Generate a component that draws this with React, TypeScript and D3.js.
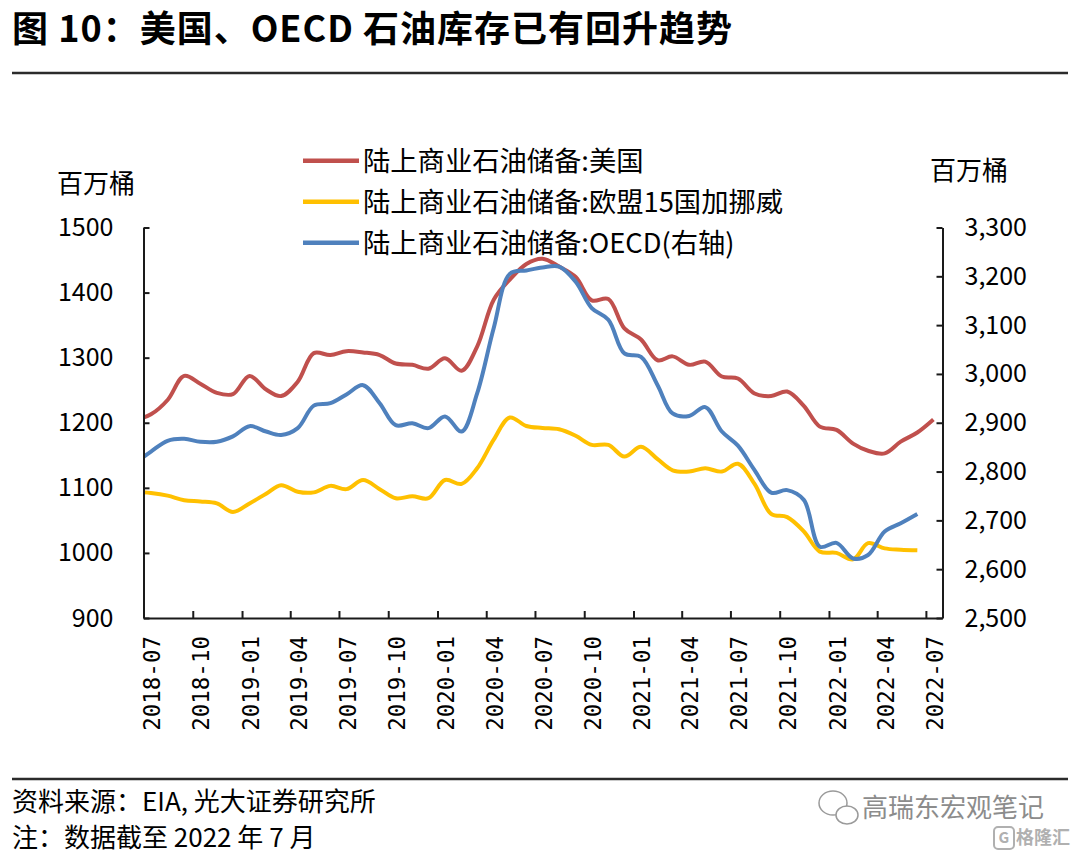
import { useEffect, useRef } from 'react';
import * as d3 from 'd3';

// monthly observations, 2018-06 .. 2022-07
const monthList = [
  '2018-06', '2018-07', '2018-08', '2018-09', '2018-10', '2018-11', '2018-12',
  '2019-01', '2019-02', '2019-03', '2019-04', '2019-05', '2019-06',
  '2019-07', '2019-08', '2019-09', '2019-10', '2019-11', '2019-12',
  '2020-01', '2020-02', '2020-03', '2020-04', '2020-05', '2020-06',
  '2020-07', '2020-08', '2020-09', '2020-10', '2020-11', '2020-12',
  '2021-01', '2021-02', '2021-03', '2021-04', '2021-05', '2021-06',
  '2021-07', '2021-08', '2021-09', '2021-10', '2021-11', '2021-12',
  '2022-01', '2022-02', '2022-03', '2022-04', '2022-05', '2022-06', '2022-07',
];

// 陆上商业石油储备:美国 (百万桶, left axis)
const usStock = [
  1204, 1213, 1235, 1272, 1260, 1246, 1244,
  1272, 1251, 1241, 1263, 1307, 1304,
  1310, 1308, 1304, 1291, 1289, 1283,
  1299, 1280, 1317, 1389, 1420, 1444,
  1452, 1440, 1424, 1388, 1390, 1345,
  1328, 1296, 1302, 1289, 1294, 1271,
  1268, 1245, 1241, 1248, 1226, 1194,
  1189, 1168, 1157, 1153, 1171, 1185, 1205,
];

// 陆上商业石油储备:欧盟15国加挪威 (百万桶, left axis)
const euStock = [
  1094, 1092, 1088, 1081, 1079, 1076, 1063,
  1076, 1091, 1104, 1094, 1093, 1103,
  1098, 1112, 1098, 1084, 1087, 1084,
  1112, 1106, 1130, 1174, 1208, 1195,
  1192, 1190, 1180, 1166, 1166, 1148,
  1163, 1144, 1127, 1125, 1130, 1125,
  1137, 1106, 1060, 1055, 1033, 1002,
  1000, 990, 1015, 1007, 1005, 1004,
];

// 陆上商业石油储备:OECD (百万桶, right axis)
const oecdStock = [
  2817, 2841, 2863, 2867, 2861, 2861, 2872,
  2893, 2882, 2875, 2889, 2935, 2940,
  2958, 2977, 2940, 2895, 2899, 2889,
  2913, 2882, 2960, 3094, 3205, 3212,
  3218, 3220, 3189, 3135, 3111, 3042,
  3035, 2977, 2919, 2914, 2932, 2882,
  2853, 2803, 2757, 2762, 2742, 2646,
  2654, 2622, 2629, 2677, 2694, 2713,
];

const xTickLabels = [
  '2018-07', '2018-10', '2019-01', '2019-04', '2019-07', '2019-10',
  '2020-01', '2020-04', '2020-07', '2020-10', '2021-01', '2021-04',
  '2021-07', '2021-10', '2022-01', '2022-04', '2022-07',
];
const leftTicks = [900, 1000, 1100, 1200, 1300, 1400, 1500];
const rightTicks = [2500, 2600, 2700, 2800, 2900, 3000, 3100, 3200, 3300];

const legendList = [
  { name: '陆上商业石油储备:美国', color: '#C0504D' },
  { name: '陆上商业石油储备:欧盟15国加挪威', color: '#FFC000' },
  { name: '陆上商业石油储备:OECD(右轴)', color: '#4F81BD' },
];

const width = 1080;
const height = 858;
const plot = { left: 143.5, right: 942.5, top: 227.5, bottom: 618 };
const cjk = '"Noto Sans CJK SC", "Noto Sans", sans-serif';

const parseMonth = d3.timeParse('%Y-%m');
const midMonth = (m: string) => d3.timeDay.offset(parseMonth(m)!, 14);

const App = () => {
  const svgRef = useRef<SVGSVGElement>(null);

  useEffect(() => {
    const svg = d3.select(svgRef.current);
    svg.selectAll('*').remove();

    const x = d3
      .scaleTime()
      .domain([parseMonth('2018-07')!, parseMonth('2022-08')!])
      .range([plot.left, plot.right]);
    const yL = d3.scaleLinear().domain([900, 1500]).range([plot.bottom, plot.top]);
    const yR = d3.scaleLinear().domain([2500, 3300]).range([plot.bottom, plot.top]);

    // title
    svg
      .append('text')
      .attr('x', 12)
      .attr('y', 42)
      .attr('font-family', cjk)
      .attr('font-size', 36)
      .attr('font-weight', 700)
      .attr('letter-spacing', 1)
      .attr('fill', '#000')
      .text('图 10：美国、OECD 石油库存已有回升趋势');
    svg
      .append('line')
      .attr('x1', 12)
      .attr('x2', 1068)
      .attr('y1', 73)
      .attr('y2', 73)
      .attr('stroke', '#2b2b2b')
      .attr('stroke-width', 2.5);

    // legend
    const legend = svg
      .append('g')
      .selectAll('g')
      .data(legendList)
      .join('g')
      .attr('transform', (d, i) => `translate(303, ${160.7 + i * 41})`);
    legend
      .append('line')
      .attr('x1', 0)
      .attr('x2', 56)
      .attr('stroke', (d) => d.color)
      .attr('stroke-width', 4.5);
    legend
      .append('text')
      .attr('x', 60)
      .attr('dy', '0.36em')
      .attr('font-family', cjk)
      .attr('font-size', 27.3)
      .text((d) => d.name);

    // axis titles
    [
      { x: 96, y: 184 },
      { x: 969, y: 171 },
    ].forEach((p) => {
      svg
        .append('text')
        .attr('x', p.x)
        .attr('y', p.y)
        .attr('dy', '0.36em')
        .attr('text-anchor', 'middle')
        .attr('font-family', cjk)
        .attr('font-size', 26)
        .text('百万桶');
    });

    // series
    svg
      .append('clipPath')
      .attr('id', 'plot-clip')
      .append('rect')
      .attr('x', plot.left)
      .attr('y', plot.top - 10)
      .attr('width', plot.right - plot.left)
      .attr('height', plot.bottom - plot.top + 20);

    const lineL = d3
      .line<number>()
      .x((d, i) => x(midMonth(monthList[i])))
      .y((d) => yL(d))
      .curve(d3.curveCatmullRom.alpha(0.5));
    const lineR = d3
      .line<number>()
      .x((d, i) => x(midMonth(monthList[i])))
      .y((d) => yR(d))
      .curve(d3.curveCatmullRom.alpha(0.5));

    const series = svg.append('g').attr('clip-path', 'url(#plot-clip)');
    [
      { d: lineL(usStock), color: legendList[0].color },
      { d: lineL(euStock), color: legendList[1].color },
      { d: lineR(oecdStock), color: legendList[2].color },
    ].forEach((s) => {
      series
        .append('path')
        .attr('d', s.d)
        .attr('fill', 'none')
        .attr('stroke', s.color)
        .attr('stroke-width', 4)
        .attr('stroke-linejoin', 'round');
    });

    // axes
    const styleAxis = (g: d3.Selection<SVGGElement, unknown, null, undefined>) => {
      g.attr('font-family', cjk).attr('font-size', 25);
      g.select('.domain').attr('stroke', '#1a1a1a').attr('stroke-width', 2);
      g.selectAll('.tick line').attr('stroke', '#1a1a1a').attr('stroke-width', 2);
      g.selectAll('.tick text').attr('fill', '#000');
    };

    svg
      .append('g')
      .attr('transform', `translate(${plot.left},0)`)
      .call(
        d3
          .axisLeft(yL)
          .tickValues(leftTicks)
          .tickSizeInner(-6)
          .tickSizeOuter(0)
          .tickPadding(30)
          .tickFormat(d3.format('d')),
      )
      .call(styleAxis);

    svg
      .append('g')
      .attr('transform', `translate(${plot.right},0)`)
      .call(
        d3
          .axisRight(yR)
          .tickValues(rightTicks)
          .tickSizeInner(-6)
          .tickSizeOuter(0)
          .tickPadding(22)
          .tickFormat(d3.format(',')),
      )
      .call(styleAxis);

    const xTickDates = xTickLabels.map((m) => parseMonth(m)!);
    svg
      .append('g')
      .attr('transform', `translate(0,${plot.bottom})`)
      .call(
        d3
          .axisBottom(x)
          .tickValues(xTickDates)
          .tickSizeInner(-7)
          .tickSizeOuter(0)
          .tickFormat(() => ''),
      )
      .call(styleAxis);

    svg
      .append('g')
      .selectAll('text')
      .data(xTickLabels)
      .join('text')
      .attr('transform', (d) => `translate(${x(parseMonth(d)!) + 8.5},636) rotate(-90)`)
      .attr('text-anchor', 'end')
      .attr('dy', '0.36em')
      .attr('font-family', '"DejaVu Sans Mono", monospace')
      .attr('font-size', 22.5)
      .text((d) => d);

    // footer
    svg
      .append('line')
      .attr('x1', 12)
      .attr('x2', 1068)
      .attr('y1', 779)
      .attr('y2', 779)
      .attr('stroke', '#2b2b2b')
      .attr('stroke-width', 2.5);
    [
      { t: '资料来源：EIA, 光大证券研究所', y: 802 },
      { t: '注：数据截至 2022 年 7 月', y: 838 },
    ].forEach((f) => {
      svg
        .append('text')
        .attr('x', 12)
        .attr('y', f.y)
        .attr('dy', '0.36em')
        .attr('font-family', cjk)
        .attr('font-size', 26)
        .text(f.t);
    });

    // watermark
    const wm = svg.append('g').attr('stroke', '#9a9a9a').attr('fill', '#fff').attr('stroke-width', 1.5);
    wm.append('ellipse').attr('cx', 833).attr('cy', 803).attr('rx', 14).attr('ry', 12);
    wm.append('ellipse').attr('cx', 847).attr('cy', 815).attr('rx', 11).attr('ry', 9);
    svg
      .append('text')
      .attr('x', 862)
      .attr('y', 808)
      .attr('dy', '0.36em')
      .attr('font-family', cjk)
      .attr('font-size', 26)
      .attr('fill', '#8c8c8c')
      .text('高瑞东宏观笔记');
    svg
      .append('rect')
      .attr('x', 994)
      .attr('y', 827)
      .attr('width', 20)
      .attr('height', 22)
      .attr('rx', 4)
      .attr('fill', 'none')
      .attr('stroke', '#b0b0b0')
      .attr('stroke-width', 2);
    svg
      .append('text')
      .attr('x', 1004)
      .attr('y', 838)
      .attr('dy', '0.36em')
      .attr('text-anchor', 'middle')
      .attr('font-family', cjk)
      .attr('font-size', 15)
      .attr('font-weight', 700)
      .attr('fill', '#b0b0b0')
      .text('G');
    svg
      .append('text')
      .attr('x', 1016)
      .attr('y', 838)
      .attr('dy', '0.36em')
      .attr('font-family', cjk)
      .attr('font-size', 18)
      .attr('font-weight', 700)
      .attr('fill', '#b0b0b0')
      .text('格隆汇');
  }, []);

  return (
    <svg
      ref={svgRef}
      width={width}
      height={height}
      style={{ position: 'absolute', left: 0, top: 0, background: '#fff' }}
    />
  );
};

export default App;
